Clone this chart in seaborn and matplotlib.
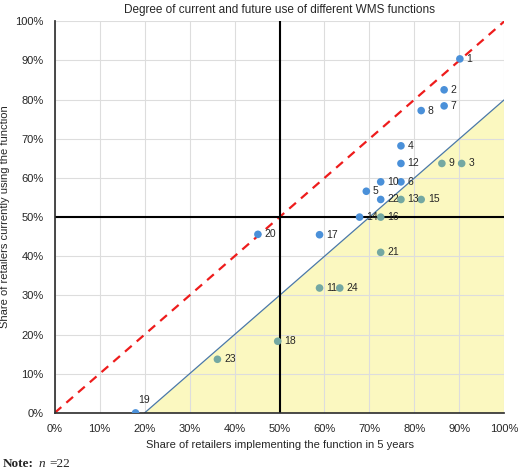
import numpy as np
import pandas as pd
import seaborn as sns
import matplotlib.pyplot as plt
from matplotlib.ticker import MultipleLocator, PercentFormatter

# data (percent)
ids = [1, 2, 3, 4, 5, 6, 7, 8, 9, 10, 11, 12, 13, 14, 15, 16, 17, 18, 19, 20, 21, 22, 23, 24]
future = [90.1, 86.6, 90.5, 77.0, 69.3, 77.0, 86.6, 81.5, 86.1, 72.5, 58.9, 77.0,
          77.0, 67.8, 81.5, 72.5, 58.9, 49.6, 18.0, 45.2, 72.5, 72.5, 36.2, 63.4]
current = [90.4, 82.5, 63.7, 68.2, 56.6, 59.0, 78.4, 77.2, 63.7, 59.0, 31.9, 63.7,
           54.5, 50.0, 54.5, 50.0, 45.5, 18.3, 0.0, 45.6, 41.0, 54.5, 13.7, 31.9]
in_zone = [False, False, True, False, False, False, False, False, True, False, True, False,
           True, False, True, True, False, True, False, False, True, False, True, True]

df = pd.DataFrame({'id': ids, 'future': future, 'current': current, 'zone': in_zone})

sns.set_theme(style="whitegrid")
plt.rcParams['font.family'] = ['Liberation Sans', 'DejaVu Sans']

fig, ax = plt.subplots(figsize=(5.2, 4.73), dpi=100)
fig.subplots_adjust(left=0.105, right=0.97, top=0.955, bottom=0.127)

ax.fill([20, 100, 100], [0, 0, 80], color='#fbf8c0', zorder=0)
ax.plot([20, 100], [0, 80], color='#4a78a8', lw=0.9, zorder=1)
ax.plot([0, 100], [0, 100], color='#ee1c1c', lw=1.6, ls=(0, (4, 3)), zorder=2)
ax.axvline(50, color='black', lw=1.5, zorder=2)
ax.axhline(50, color='black', lw=1.5, zorder=2)

sns.scatterplot(data=df, x='future', y='current', hue='zone',
                palette={False: '#4a90d9', True: '#74a8a2'}, s=30,
                edgecolor='none', legend=False, ax=ax, zorder=3)

for _, r in df.iterrows():
    if r['id'] == 19:
        ax.text(r['future'] + 0.5, r['current'] + 2.5, str(r['id']), fontsize=7.5)
    else:
        ax.text(r['future'] + 1.5, r['current'], str(r['id']), fontsize=7.5, va='center')

ax.set_xlim(0, 100)
ax.set_ylim(0, 100)
ax.xaxis.set_major_locator(MultipleLocator(10))
ax.yaxis.set_major_locator(MultipleLocator(10))
ax.xaxis.set_major_formatter(PercentFormatter(decimals=0))
ax.yaxis.set_major_formatter(PercentFormatter(decimals=0))
ax.tick_params(labelsize=8, pad=2)
ax.grid(color='#dddddd', lw=0.8)
for s in ax.spines.values():
    s.set_visible(False)
ax.spines['left'].set_visible(True)
ax.spines['bottom'].set_visible(True)
ax.spines['left'].set_color('#333333')
ax.spines['bottom'].set_color('#333333')

ax.set_title('Degree of current and future use of different WMS functions', fontsize=8.5, pad=6)
ax.set_xlabel('Share of retailers implementing the function in 5 years', fontsize=8)
ax.set_ylabel('Share of retailers currently using the function', fontsize=8)

fig.text(0.005, 0.012, 'Note:', fontsize=9.5, family='Liberation Serif', fontweight='bold')
fig.text(0.075, 0.012, 'n', fontsize=9.5, family='Liberation Serif', style='italic')
fig.text(0.095, 0.012, '=22', fontsize=9.5, family='Liberation Serif')

fig.savefig('out.png', dpi=100)
